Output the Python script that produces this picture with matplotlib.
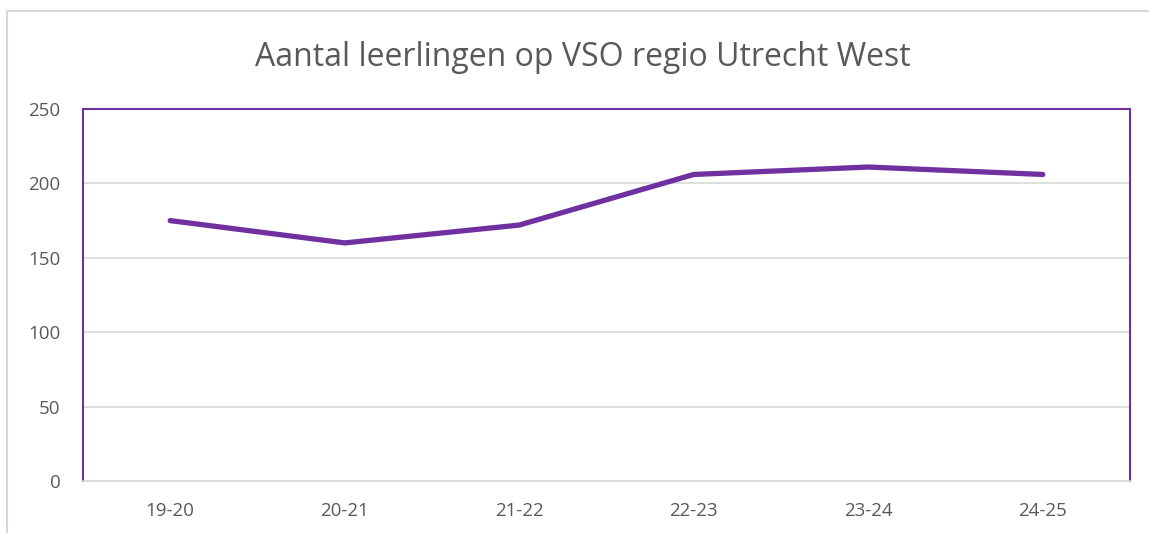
import matplotlib.pyplot as plt
from matplotlib.lines import Line2D

years = ["19-20", "20-21", "21-22", "22-23", "23-24", "24-25"]
leerlingen = [175, 160, 172, 206, 211, 206]
yticks = [0, 50, 100, 150, 200, 250]

purple = '#7030A0'
grey_text = '#595959'
plt.rcParams['font.family'] = ['Open Sans', 'DejaVu Sans']

fig = plt.figure(figsize=(11.49, 5.33), dpi=100)
ax = fig.add_axes([0.0722, 0.0976, 0.9113, 0.6979])

x = range(len(years))
ax.plot(x, leerlingen, color=purple, linewidth=3.8, solid_capstyle='round', zorder=3)

ax.set_xlim(-0.5, len(years) - 0.5)
ax.set_ylim(0, 250)
ax.set_xticks(list(x))
ax.set_xticklabels(years)
ax.set_yticks(yticks)
ax.tick_params(axis='both', length=0, labelsize=13.5, colors=grey_text)
ax.tick_params(axis='x', pad=15)
ax.tick_params(axis='y', pad=16)
ax.grid(axis='y', color='#d9d9d9', linewidth=1.2)
ax.set_axisbelow(True)

for side in ['top', 'left', 'right']:
    ax.spines[side].set_color(purple)
    ax.spines[side].set_linewidth(1.5)
ax.spines['bottom'].set_color('#d9d9d9')
ax.spines['bottom'].set_linewidth(1.2)

fig.text(0.507, 0.893, "Aantal leerlingen op VSO regio Utrecht West",
         ha='center', va='center', fontsize=23, color=grey_text)

# outer chart border (cropped)
fig.add_artist(Line2D([7/1149, 7/1149], [0, 1 - 11/533], transform=fig.transFigure,
                      color='#d9d9d9', linewidth=1.5))
fig.add_artist(Line2D([7/1149, 1], [1 - 11/533, 1 - 11/533], transform=fig.transFigure,
                      color='#d9d9d9', linewidth=1.5))

fig.savefig('out.png', dpi=100)
